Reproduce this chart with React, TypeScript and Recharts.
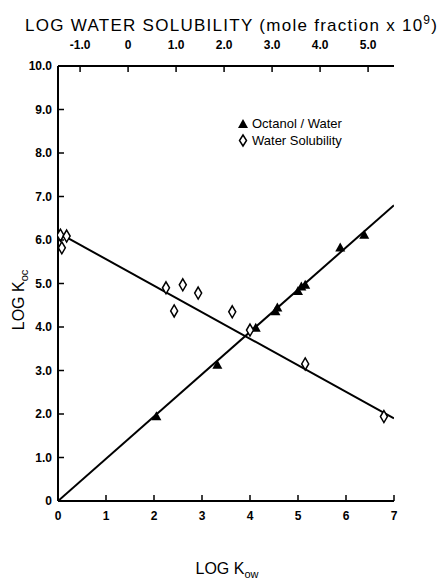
import React from 'react';
import { ComposedChart, Scatter, XAxis, YAxis, Legend } from 'recharts';

// Axis ticks / domains
const kowTicks = [0, 1, 2, 3, 4, 5, 6, 7];
const kocTicks = [0, 1, 2, 3, 4, 5, 6, 7, 8, 9, 10];
const solubilityTicks = [-1, 0, 1, 2, 3, 4, 5];
const kowDomain = [0, 7];
const kocDomain = [0, 10];
const solubilityDomain = [-1.46, 5.54];

// Octanol / Water points (bottom axis: LOG Kow)
const octanolKow = [2.05, 3.32, 4.12, 4.53, 4.57, 5.0, 5.07, 5.15, 5.88, 6.38];
const octanolKoc = [1.95, 3.13, 3.98, 4.36, 4.45, 4.83, 4.93, 4.97, 5.83, 6.12];

// Water solubility points (top axis: LOG water solubility)
const solubilityLogS = [-1.41, -1.38, -1.28, 0.79, 0.96, 1.14, 1.46, 2.17, 2.54, 3.69, 5.33];
const solubilityKoc = [6.11, 5.82, 6.09, 4.9, 4.37, 4.97, 4.78, 4.35, 3.93, 3.15, 1.94];

// Fitted lines
const octanolFitKow = [0, 7];
const octanolFitKoc = [0, 6.8];
const solubilityFitLogS = [-1.46, 5.54];
const solubilityFitKoc = [6.17, 1.9];

const zip = (xs: number[], ys: number[]) => xs.map((x, i) => ({ x, y: ys[i] }));
const octanolData = zip(octanolKow, octanolKoc);
const solubilityData = zip(solubilityLogS, solubilityKoc);
const octanolFit = zip(octanolFitKow, octanolFitKoc);
const solubilityFit = zip(solubilityFitLogS, solubilityFitKoc);

const FONT = '"Liberation Sans", Arial, Helvetica, sans-serif';
const fmt = (v: number) => (v === 0 ? '0' : v.toFixed(1));

function LeftTick(props: any) {
  const { x, y, payload } = props;
  return (
    <g>
      <line x1={x} x2={x + 6} y1={y} y2={y} stroke="#000" strokeWidth={1.5} />
      <text x={x - 6} y={y + 4} textAnchor="end" fontFamily={FONT} fontSize={12} fontWeight={700} fill="#000">
        {fmt(payload.value)}
      </text>
    </g>
  );
}

function BottomTick(props: any) {
  const { x, y, payload } = props;
  return (
    <g>
      <line x1={x} x2={x} y1={y} y2={y - 6} stroke="#000" strokeWidth={1.5} />
      <text x={x} y={y + 19} textAnchor="middle" fontFamily={FONT} fontSize={12} fontWeight={700} fill="#000">
        {String(payload.value)}
      </text>
    </g>
  );
}

function TopTick(props: any) {
  const { x, y, payload } = props;
  return (
    <g>
      <line x1={x} x2={x} y1={y} y2={y + 6} stroke="#000" strokeWidth={1.5} />
      <text x={x} y={y - 17} textAnchor="middle" fontFamily={FONT} fontSize={12} fontWeight={700} fill="#000">
        {fmt(payload.value)}
      </text>
    </g>
  );
}

const TriangleShape = (p: any) => {
  const { cx, cy } = p;
  return <polygon points={`${cx},${cy - 5} ${cx + 5},${cy + 4} ${cx - 5},${cy + 4}`} fill="#000" />;
};

const DiamondShape = (p: any) => {
  const { cx, cy } = p;
  return (
    <polygon
      points={`${cx},${cy - 6} ${cx + 3.5},${cy} ${cx},${cy + 6} ${cx - 3.5},${cy}`}
      fill="#fff"
      stroke="#000"
      strokeWidth={1.5}
    />
  );
};

const NoShape = () => <g />;

function LegendContent() {
  return (
    <div style={{ fontFamily: FONT, fontSize: 13, color: '#000', lineHeight: '17px' }}>
      <div style={{ display: 'flex', alignItems: 'center' }}>
        <svg width={16} height={17}>
          <polygon points="7,4 12,13 2,13" fill="#000" />
        </svg>
        <span>Octanol / Water</span>
      </div>
      <div style={{ display: 'flex', alignItems: 'center' }}>
        <svg width={16} height={17}>
          <polygon points="7,3 10.5,8.5 7,14 3.5,8.5" fill="#fff" stroke="#000" strokeWidth={1.5} />
        </svg>
        <span>Water Solubility</span>
      </div>
    </div>
  );
}

export default function App() {
  return (
    <div style={{ position: 'absolute', left: 0, top: 0, width: 440, height: 579, background: '#fff' }}>
      <ComposedChart
        width={440}
        height={579}
        margin={{ top: 26, right: 46, bottom: 14, left: 8 }}
        style={{ fontFamily: FONT }}
      >
        <XAxis
          xAxisId="bottom"
          orientation="bottom"
          type="number"
          dataKey="x"
          domain={kowDomain}
          ticks={kowTicks}
          allowDataOverflow
          height={30}
          tickSize={0}
          tickMargin={0}
          tickLine={false}
          tick={<BottomTick />}
          axisLine={{ stroke: '#000', strokeWidth: 2 }}
        />
        <XAxis
          xAxisId="top"
          orientation="top"
          type="number"
          dataKey="x"
          domain={solubilityDomain}
          ticks={solubilityTicks}
          allowDataOverflow
          height={40}
          tickSize={0}
          tickMargin={0}
          tickLine={false}
          tick={<TopTick />}
          axisLine={{ stroke: '#000', strokeWidth: 2 }}
        />
        <YAxis
          yAxisId="koc"
          type="number"
          dataKey="y"
          domain={kocDomain}
          ticks={kocTicks}
          allowDataOverflow
          width={50}
          tickSize={0}
          tickMargin={0}
          tickLine={false}
          tick={<LeftTick />}
          axisLine={{ stroke: '#000', strokeWidth: 2 }}
        />
        <Legend
          content={<LegendContent />}
          wrapperStyle={{ position: 'absolute', left: 236, top: 115, width: 160, bottom: 'auto' }}
        />
        <Scatter
          name="octanol fit"
          data={octanolFit}
          xAxisId="bottom"
          yAxisId="koc"
          line={{ stroke: '#000', strokeWidth: 2 }}
          shape={NoShape}
          legendType="none"
          isAnimationActive={false}
        />
        <Scatter
          name="solubility fit"
          data={solubilityFit}
          xAxisId="top"
          yAxisId="koc"
          line={{ stroke: '#000', strokeWidth: 2 }}
          shape={NoShape}
          legendType="none"
          isAnimationActive={false}
        />
        <Scatter
          name="Octanol / Water"
          data={octanolData}
          xAxisId="bottom"
          yAxisId="koc"
          shape={TriangleShape}
          isAnimationActive={false}
        />
        <Scatter
          name="Water Solubility"
          data={solubilityData}
          xAxisId="top"
          yAxisId="koc"
          shape={DiamondShape}
          isAnimationActive={false}
        />
      </ComposedChart>
      <svg
        width={440}
        height={579}
        style={{ position: 'absolute', left: 0, top: 0, pointerEvents: 'none' }}
      >
        <text x={25} y={31} fontFamily={FONT} fontSize={17} fill="#000" textLength={412} lengthAdjust="spacing">
          LOG WATER SOLUBILITY (mole fraction x 10
          <tspan dy={-7} fontSize={12}>9</tspan>
          <tspan dy={7}>)</tspan>
        </text>
        <text x={227} y={574} textAnchor="middle" fontFamily={FONT} fontSize={16} fill="#000">
          LOG K<tspan dy={4} fontSize={11}>ow</tspan>
        </text>
        <text
          transform="translate(24,300) rotate(-90)"
          textAnchor="middle"
          fontFamily={FONT}
          fontSize={16}
          fill="#000"
        >
          LOG K<tspan dy={4} fontSize={11}>oc</tspan>
        </text>
      </svg>
    </div>
  );
}
